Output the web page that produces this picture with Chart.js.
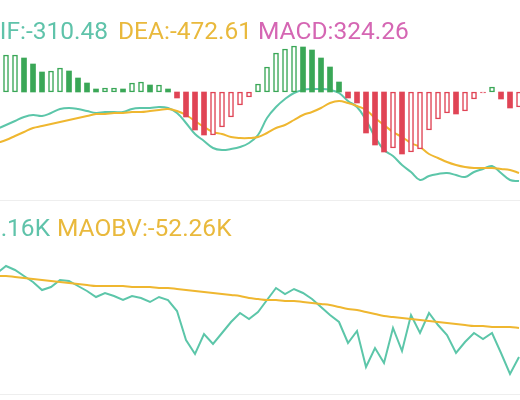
<!DOCTYPE html>
<html><head><meta charset="utf-8">
<script src="https://cdn.jsdelivr.net/npm/chart.js@4"></script>
<style>
html,body{margin:0;padding:0;background:#fff;overflow:hidden}
#wrap{position:relative;width:520px;height:400px;overflow:hidden}
canvas{position:absolute;left:0;top:0}
.t{position:absolute;font-family:Roboto,"Noto Sans",sans-serif;font-size:24.5px;white-space:nowrap;line-height:1}
.sep{position:absolute;left:0;width:520px;height:1px;background:#eeeeee}
</style></head><body>
<div id="wrap">
<canvas id="c" width="520" height="400"></canvas>
<div class="t" style="right:412px;top:19px;color:#5fc3aa">DIF:-310.48</div>
<div class="t" style="left:118px;top:19px;color:#e9b93c">DEA:-472.61</div>
<div class="t" style="left:258px;top:19px;color:#d566b3">MACD:324.26</div>
<div class="sep" style="top:200px"></div>
<div class="t" style="right:470px;top:216px;color:#5fc3aa">OBV:-67.16K</div>
<div class="t" style="left:57px;top:216px;color:#e9b93c">MAOBV:-52.26K</div>
<div class="sep" style="top:394px"></div>
</div>
<script>
const macd=[300,370,370,340,280,200,210,240,210,140,90,30,40,40,30,90,100,70,70,30,
-60,-250,-380,-430,-430,-350,-250,-130,-50,80,
250,390,430,460,450,420,340,250,100,
-60,-110,-410,-530,-600,-560,-620,-600,-570,-380,-270,-210,-220,-190,-70,-10,50,-70,-160,-150];
const dif=[-370,-330,-290,-250,-230,-240,-210,-170,-160,-170,-190,-210,-200,-200,-200,-170,-160,-160,-150,-160,-210,-310,-420,-490,-560,-580,-570,-550,-510,-430,-260,-150,-70,-10,20,30,30,20,-10,-90,-150,-280,-450,-580,-640,-730,-800,-880,-840,-820,-810,-830,-850,-800,-770,-740,-810,-880,-890];
const dea=[-510,-480,-440,-400,-360,-340,-320,-300,-280,-260,-240,-220,-220,-210,-210,-200,-200,-190,-180,-170,-190,-230,-290,-350,-400,-420,-450,-460,-460,-450,-410,-360,-330,-280,-230,-200,-160,-110,-90,-110,-140,-180,-260,-330,-400,-450,-510,-550,-620,-660,-700,-730,-750,-760,-760,-760,-770,-780,-810];
const obv=[127,134,130,124,118,110,113,120,119,114,109,103,107,104,100,104,102,98,103,100,89,60,46,66,56,67,78,87,81,88,100,112,106,111,107,101,93,85,78,57,69,33,52,37,72,49,85,67,87,75,65,47,58,67,61,67,47,26,43];
const maobv=[124,124,123,122,121,120,119,118,117,116,115,114,114,114,114,113,113,113,112,112,111,110,109,108,107,106,105,104,102,101,100,100,99,99,98,97,96,95,93,91,90,88,86,84,83,82,81,80,79,78,77,76,75,74,74,73,73,73,72];
const G='#3aa757',R='#e04455',TEAL='#5cc6a9',ORG='#efb730';
const pts=a=>a.map((v,i)=>({x:i,y:v}));
const hollow=macd.map((v,i)=>i>0&&v>=macd[i-1]);
const col=macd.map(v=>v>=0?G:R);
new Chart(document.getElementById('c'),{
 data:{datasets:[
  {type:'bar',data:pts(macd),yAxisID:'yT',barThickness:5,
   backgroundColor:macd.map((v,i)=>hollow[i]?'#fff':col[i]),
   borderColor:col,borderWidth:macd.map((v,i)=>hollow[i]?1.5:0),borderSkipped:false},
  {type:'line',data:pts(dea),yAxisID:'yT',borderColor:ORG,borderWidth:2,pointRadius:0,tension:0.4},
  {type:'line',data:pts(dif),yAxisID:'yT',borderColor:TEAL,borderWidth:2,pointRadius:0,tension:0.4},
  {type:'line',data:pts(maobv),yAxisID:'yB',borderColor:ORG,borderWidth:2,pointRadius:0,tension:0.4},
  {type:'line',data:pts(obv),yAxisID:'yB',borderColor:TEAL,borderWidth:2,pointRadius:0,tension:0}
 ]},
 options:{responsive:false,animation:false,layout:{padding:0},
  plugins:{legend:{display:false},tooltip:{enabled:false}},
  scales:{
   x:{type:'linear',min:0.333,max:58.11,display:false,offset:false},
   yT:{min:-3080,max:920,display:false},
   yB:{min:0,max:400,display:false}
  }}
});
</script></body></html>
